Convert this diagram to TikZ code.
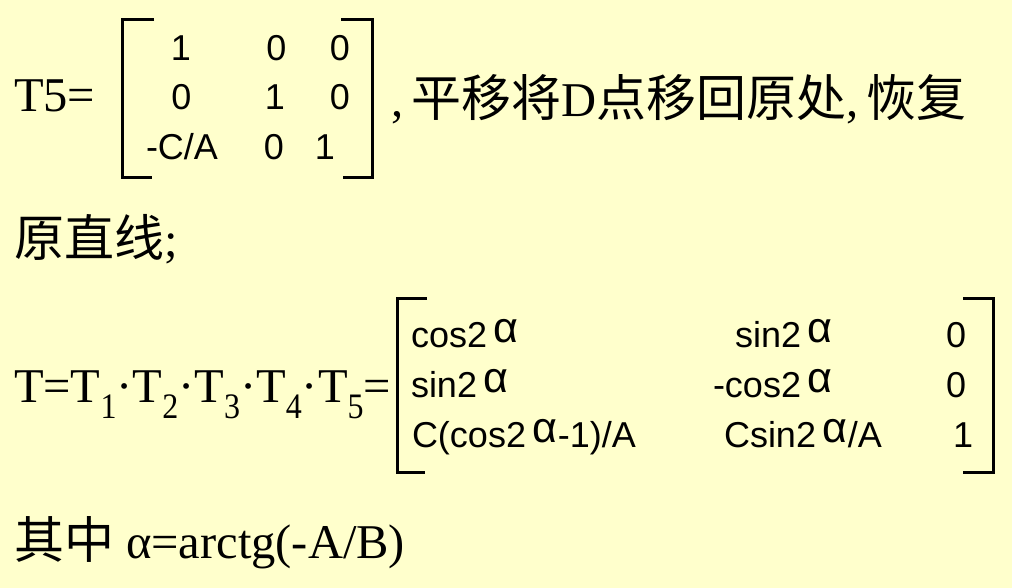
\documentclass[tikz,border=0pt]{standalone}
\usepackage{fontspec}
\setmainfont{Liberation Serif}
\newfontfamily\msans{Liberation Sans}
\newfontfamily\cjkfam{Noto Sans CJK SC}
\newcommand{\cjk}{\cjkfam\fontsize{50}{50}\selectfont}
\definecolor{bgyellow}{HTML}{FFFFCC}
\newcommand{\bigsize}{\fontsize{48.5}{48.5}\selectfont}
\newcommand{\matsize}{\fontsize{36}{36}\selectfont}
\newcommand{\sbx}[1]{\raisebox{-16pt}{\scalebox{1}[1.12]{\fontsize{32}{32}\selectfont #1}}}
\newcommand{\alx}{\hspace{6pt}\raisebox{5pt}{\fontsize{43}{43}\selectfont α}\hspace{1pt}}
\begin{document}
\begin{tikzpicture}[x=1pt,y=-1pt,
  txt/.style={inner sep=0pt, outer sep=0pt, anchor=base west, font=\bigsize},
  ent/.style={inner sep=0pt, outer sep=0pt, anchor=base, font=\msans\matsize},
  entw/.style={ent, anchor=base west},
  brk/.style={line width=3pt, line cap=butt, line join=miter}]
\fill[bgyellow] (0,0) rectangle (1012,588);
\useasboundingbox (0,0) rectangle (1012,588);

% line 1
\node[txt] (t5) at (14,112) {T5=};
\draw[brk] (154,20) -- (122.5,20) -- (122.5,178) -- (152,178);
\draw[brk] (341,20) -- (372,20) -- (372,178) -- (343,178);
\node[ent] (a11) at (181,61) {1};
\node[ent] (a12) at (276.5,61) {0};
\node[ent] (a13) at (340,61) {0};
\node[ent] (a21) at (181.5,110) {0};
\node[ent] (a22) at (275,110) {1};
\node[ent] (a23) at (340,110) {0};
\node[ent] (a31) at (182,160) {-C/A};
\node[ent] (a32) at (274,160) {0};
\node[ent] (a33) at (325,160) {1};
\node[txt] (l1) at (391,117) {,\hspace{8pt}{\cjk 平移将}D{\cjk 点移回原处},\hspace{8pt}{\cjk 恢复}};

% line 2
\node[txt] (l2) at (14,256) {{\cjk 原直线};};

% line 3
\node[txt] (tt) at (14,402) {T=T\sbx{1}·T\sbx{2}·T\sbx{3}·T\sbx{4}·T\sbx{5}=};
\draw[brk] (427,298) -- (397,298) -- (397,472) -- (425,472);
\draw[brk] (963,298) -- (993.5,298) -- (993.5,472) -- (963,472);
\node[entw] (b11) at (411,347) {cos2\alx};
\node[entw] (b12) at (735,347) {sin2\alx};
\node[ent]  (b13) at (956,347) {0};
\node[entw] (b21) at (411,397) {sin2\alx};
\node[entw] (b22) at (713,397) {-cos2\alx};
\node[ent]  (b23) at (956,397) {0};
\node[entw] (b31) at (412,447) {C(cos2\alx-1)/A};
\node[entw] (b32) at (724,447) {Csin2\alx/A};
\node[ent]  (b33) at (963,447) {1};

% line 4
\node[txt] (l4) at (14,558) {{\cjk 其中} α=arctg(-A/B)};
\end{tikzpicture}
\end{document}
